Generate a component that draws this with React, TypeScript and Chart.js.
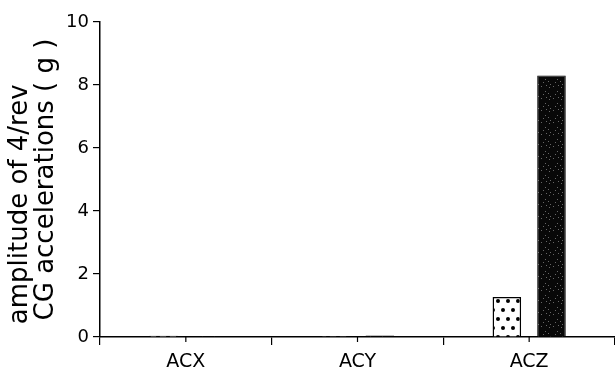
import React, { useEffect, useRef } from "react";
import { Chart, registerables } from "chart.js";

Chart.register(...registerables);

const categories = ["ACX", "ACY", "ACZ"];
const seriesDotted = [0.04, 0.03, 1.27];
const seriesDark = [0.03, 0.05, 8.3];
const yTicks = [0, 2, 4, 6, 8, 10];
const yTitle = ["amplitude of 4/rev      ", "CG accelerations ( g )"];

function makeDotPattern(): CanvasPattern | string {
  const c = document.createElement("canvas");
  c.width = 10;
  c.height = 18;
  const ctx = c.getContext("2d");
  if (!ctx) return "#fff";
  ctx.fillStyle = "#fff";
  ctx.fillRect(0, 0, 10, 18);
  ctx.fillStyle = "#000";
  ctx.beginPath();
  ctx.arc(3, 4, 2, 0, Math.PI * 2);
  ctx.fill();
  ctx.beginPath();
  ctx.arc(8, 13, 2, 0, Math.PI * 2);
  ctx.fill();
  return ctx.createPattern(c, "repeat") || "#fff";
}

function makeDarkPattern(): CanvasPattern | string {
  const c = document.createElement("canvas");
  c.width = 12;
  c.height = 12;
  const ctx = c.getContext("2d");
  if (!ctx) return "#111";
  ctx.fillStyle = "#080808";
  ctx.fillRect(0, 0, 12, 12);
  ctx.fillStyle = "#666";
  const pts = [[1, 2], [5, 7], [9, 3], [3, 10], [8, 9], [10, 0], [6, 1]];
  pts.forEach(([x, y]) => ctx.fillRect(x, y, 1, 1));
  return ctx.createPattern(c, "repeat") || "#111";
}

const centerTicks = {
  id: "centerTicks",
  afterDraw(chart: any) {
    const xs = chart.scales.x;
    const ctx = chart.ctx;
    ctx.save();
    ctx.strokeStyle = "#000";
    ctx.lineWidth = 1.2;
    categories.forEach((_, i) => {
      const px = xs.getPixelForValue(i);
      ctx.beginPath();
      ctx.moveTo(px, xs.top);
      ctx.lineTo(px, xs.top + 5);
      ctx.stroke();
    });
    ctx.restore();
  },
};

export default function App() {
  const ref = useRef<HTMLCanvasElement>(null);
  useEffect(() => {
    document.body.style.margin = "0";
    const canvas = ref.current;
    if (!canvas) return;
    const chart = new Chart(canvas, {
      type: "bar",
      data: {
        labels: categories,
        datasets: [
          {
            label: "dotted",
            data: seriesDotted,
            backgroundColor: makeDotPattern() as any,
            borderColor: "#000",
            borderWidth: 1.5,
          },
          {
            label: "dark",
            data: seriesDark,
            backgroundColor: makeDarkPattern() as any,
            borderColor: "#000",
            borderWidth: 1,
          },
        ],
      },
      options: {
        animation: false,
        responsive: false,
        devicePixelRatio: 1,
        layout: { padding: { top: 22, right: 0, left: 7, bottom: 0 } },
        datasets: { bar: { categoryPercentage: 0.52, barPercentage: 0.64 } },
        plugins: { legend: { display: false }, tooltip: { enabled: false } },
        scales: {
          x: {
            grid: {
              offset: true,
              drawOnChartArea: false,
              drawTicks: true,
              tickLength: 8,
              color: "#000",
              lineWidth: 1.2,
            },
            border: { color: "#000", width: 1.5 },
            ticks: {
              color: "#000",
              font: { family: "DejaVu Sans", size: 19 },
              padding: 6,
            },
            afterFit(scale: any) {
              scale.height = 39;
            },
          },
          y: {
            min: 0,
            max: 10,
            afterBuildTicks(scale: any) {
              scale.ticks = yTicks.map((v) => ({ value: v }));
            },
            grid: {
              drawOnChartArea: false,
              drawTicks: true,
              tickLength: 7,
              color: "#000",
              lineWidth: 1.2,
            },
            border: { color: "#000", width: 1.5 },
            ticks: {
              color: "#000",
              font: { family: "DejaVu Sans", size: 18 },
              padding: 4,
            },
            title: {
              display: true,
              text: yTitle,
              color: "#000",
              font: { family: "DejaVu Sans", size: 26, lineHeight: 1.0 },
              padding: { top: 0, bottom: 2 },
            },
            afterFit(scale: any) {
              scale.width = 93;
            },
          },
        },
      },
      plugins: [centerTicks],
    });
    return () => chart.destroy();
  }, []);
  return <canvas ref={ref} width={615} height={376} style={{ display: "block" }} />;
}
